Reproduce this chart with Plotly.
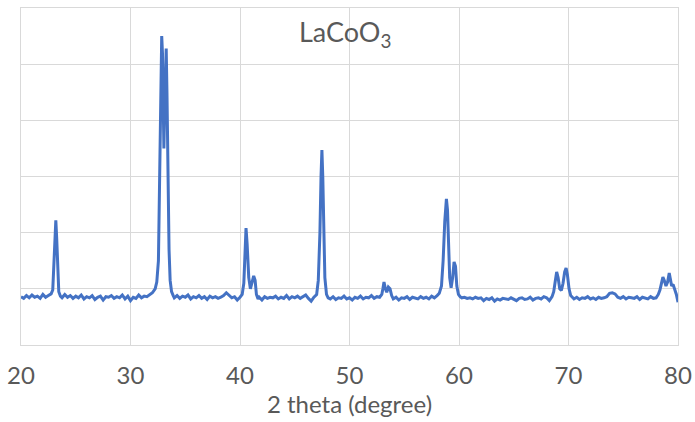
import plotly.graph_objects as go

two_theta = [
    20.0, 20.25, 20.5, 20.75, 21.0, 21.25, 21.5, 21.75, 22.0, 22.25, 22.5, 22.75,
    22.9, 23.0, 23.1, 23.18, 23.26, 23.35, 23.45, 23.6,
    23.75, 24.0, 24.25, 24.5, 24.75, 25.0, 25.25, 25.5, 25.75, 26.0, 26.25, 26.5, 26.75,
    27.0, 27.25, 27.5, 27.75, 28.0, 28.25, 28.5, 28.75, 29.0, 29.25, 29.5, 29.75, 30.0,
    30.25, 30.5, 30.75, 31.0, 31.25, 31.5, 31.75, 32.0, 32.25,
    32.4, 32.55, 32.65, 32.75, 32.85, 32.92, 32.98, 33.05, 33.12, 33.2, 33.26, 33.33,
    33.42, 33.52, 33.62, 33.75, 33.9,
    34.0, 34.25, 34.5, 34.75, 35.0, 35.25, 35.5, 35.75, 36.0, 36.25, 36.5, 36.75, 37.0,
    37.25, 37.5, 37.75, 38.0, 38.25, 38.5, 38.75, 39.0, 39.25, 39.5, 39.75, 40.0, 40.2,
    40.35, 40.45, 40.55, 40.65, 40.8, 40.95, 41.1, 41.25, 41.38, 41.5, 41.65,
    41.75, 42.0, 42.25, 42.5, 42.75, 43.0, 43.25, 43.5, 43.75, 44.0, 44.25, 44.5, 44.75,
    45.0, 45.25, 45.5, 45.75, 46.0, 46.25, 46.5, 46.75, 47.0,
    47.15, 47.3, 47.4, 47.48, 47.56, 47.65, 47.75, 47.9, 48.05,
    48.25, 48.5, 48.75, 49.0, 49.25, 49.5, 49.75, 50.0, 50.25, 50.5, 50.75, 51.0, 51.25,
    51.5, 51.75, 52.0, 52.25, 52.5, 52.75, 52.95,
    53.05, 53.15, 53.28, 53.4, 53.55, 53.7, 53.85, 54.0,
    54.25, 54.5, 54.75, 55.0, 55.25, 55.5, 55.75, 56.0, 56.25, 56.5, 56.75, 57.0, 57.25,
    57.5, 57.75, 58.0,
    58.2, 58.4, 58.55, 58.7, 58.85, 58.95, 59.05, 59.15, 59.28, 59.42, 59.55, 59.68, 59.8,
    59.95, 60.1,
    60.25, 60.5, 60.75, 61.0, 61.25, 61.5, 61.75, 62.0, 62.25, 62.5, 62.75, 63.0, 63.25,
    63.5, 63.75, 64.0, 64.25, 64.5, 64.75, 65.0, 65.25, 65.5, 65.75, 66.0, 66.25, 66.5,
    66.75, 67.0, 67.25, 67.5, 67.75, 68.0, 68.25, 68.5,
    68.65, 68.8, 68.92, 69.05, 69.2, 69.35, 69.5, 69.65, 69.78, 69.9, 70.05, 70.2, 70.35,
    70.5, 70.75, 71.0, 71.25, 71.5, 71.75, 72.0, 72.25, 72.5, 72.75, 73.0, 73.25, 73.5,
    73.75, 74.0, 74.25, 74.5, 74.75, 75.0, 75.25, 75.5, 75.75, 76.0, 76.25, 76.5, 76.75,
    77.0, 77.25, 77.5, 77.75, 78.0, 78.2,
    78.35, 78.5, 78.62, 78.75, 78.9, 79.05, 79.2, 79.3, 79.42, 79.55, 79.7, 79.85, 80.0,
]

intensity = [
    86, 83, 88, 84, 89, 85, 87, 83, 90, 85, 88, 91,
    98, 150, 205, 222, 190, 120, 95, 87,
    84, 90, 85, 88, 83, 87, 84, 89, 82, 86, 84, 88, 81,
    85, 87, 80, 86, 85, 88, 83, 86, 84, 89, 82, 87, 79,
    85, 83, 89, 84, 87, 86, 90, 93, 100,
    112, 150, 260, 430, 550, 520, 420, 350, 420, 515, 528, 450,
    300, 170, 115, 95, 88,
    84, 88, 83, 87, 85, 89, 82, 86, 84, 88, 83, 86, 81,
    87, 84, 86, 83, 85, 88, 93, 89, 84, 86, 80, 85, 90,
    110, 170, 208, 180, 120, 100, 110, 123, 115, 90, 82,
    85, 80, 86, 83, 85, 84, 87, 82, 85, 83, 88, 82, 86,
    84, 87, 83, 86, 89, 83, 78, 85, 90,
    115, 200, 300, 347, 300, 200, 120, 90, 84,
    82, 86, 81, 84, 83, 87, 82, 84, 80, 85, 83, 87, 82,
    85, 84, 88, 83, 86, 85, 90,
    100, 112, 100, 94, 103, 100, 88, 82,
    85, 80, 84, 83, 86, 81, 85, 84, 82, 86, 83, 85, 82,
    87, 84, 88,
    92, 105, 150, 220, 260, 240, 180, 120, 102, 120, 148, 140, 105,
    90, 86,
    84, 85, 83, 84, 82, 85, 83, 84, 79, 83, 81, 84, 78,
    82, 80, 83, 82, 81, 84, 82, 79, 83, 84, 81, 82, 85,
    80, 83, 84, 82, 86, 84, 79, 86,
    95, 115, 130, 120, 100, 97, 110, 130, 137, 125, 100, 88, 85,
    82, 85, 81, 84, 83, 86, 82, 84, 81, 85, 83, 84, 86,
    92, 93, 91, 85, 83, 86, 82, 85, 84, 83, 86, 81, 85,
    84, 82, 86, 83, 84, 90,
    98, 112, 121, 115, 105, 112, 128, 118, 105, 108, 100, 90, 76,
]

x_ticks = [20, 30, 40, 50, 60, 70, 80]
title_text = "LaCoO<sub>3</sub>"
x_title = "2 theta (degree)"

font_family = "Lato, 'Open Sans', sans-serif"
grid_color = "#D9D9D9"
text_color = "#595959"

fig = go.Figure()
fig.add_trace(go.Scatter(
    x=two_theta, y=intensity, mode="lines",
    line=dict(color="#4472C4", width=3),
    showlegend=False,
))

fig.add_annotation(
    x=49.6, y=555, xref="x", yref="y", text=title_text, showarrow=False,
    font=dict(family=font_family, size=27, color=text_color),
    xanchor="center", yanchor="middle",
)

fig.update_layout(
    width=695, height=422,
    margin=dict(l=21, r=17, t=8, b=77),
    paper_bgcolor="white", plot_bgcolor="white",
    font=dict(family=font_family, color=text_color),
)
fig.update_xaxes(
    range=[20, 80], tickvals=x_ticks, ticktext=[str(v) for v in x_ticks],
    automargin=False,
    showgrid=True, gridcolor=grid_color, gridwidth=1,
    showline=True, linecolor=grid_color, linewidth=1, mirror=True,
    zeroline=False, ticks="", ticklabelstandoff=9,
    tickfont=dict(family=font_family, size=24, color=text_color),
    title=dict(text=x_title, font=dict(family=font_family, size=24, color=text_color), standoff=5),
)
fig.update_yaxes(
    range=[0, 600], dtick=100, showticklabels=False, automargin=False,
    showgrid=True, gridcolor=grid_color, gridwidth=1,
    showline=True, linecolor=grid_color, linewidth=1, mirror=True,
    zeroline=False, ticks="",
)

fig.write_html(
    "out.html",
    config={"displayModeBar": False, "responsive": False},
    post_script="document.body.style.margin='0px';document.body.style.overflow='hidden';",
)
